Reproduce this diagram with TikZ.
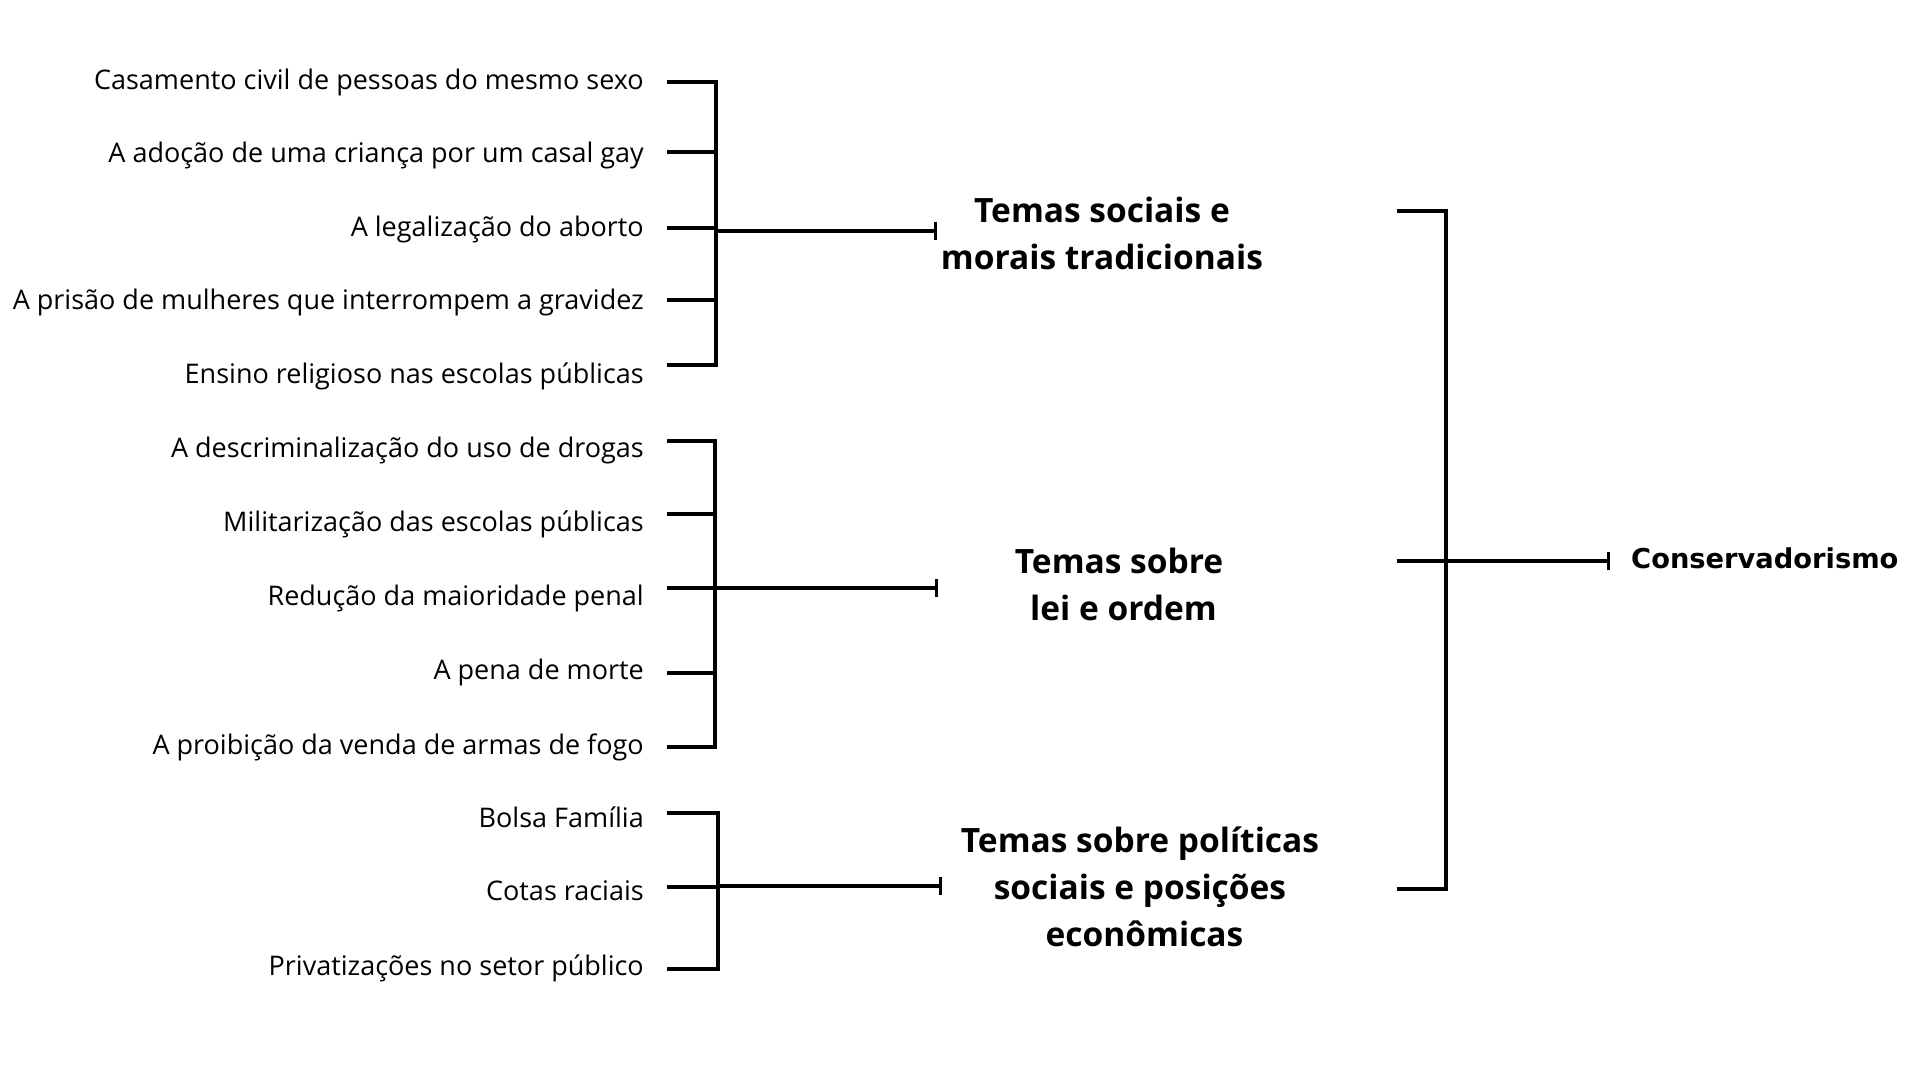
\documentclass[tikz,border=0pt]{standalone}
\usepackage{fontspec}
\setmainfont{Open Sans}
\newfontfamily\consfont{DejaVu Sans}
\usetikzlibrary{arrows.meta}
\tikzset{
  item/.style={anchor=mid east, inner sep=0pt, font=\fontsize{27}{32}\selectfont},
  grouplabel/.style={align=center, inner sep=0pt, font=\fontsize{33.5}{47}\selectfont\bfseries},
  brk/.style={line width=4pt, line join=miter},
  conn/.style={line width=4pt, -{Bar[width=18pt,line width=3.5pt]}},
}
\begin{document}
\begin{tikzpicture}[x=1pt,y=-1pt]
\useasboundingbox (0,0) rectangle (1920,1080);

% items group 1
\node[item] (i1) at (644,87) {Casamento civil de pessoas do mesmo sexo};
\node[item] (i2) at (644,160) {A adoção de uma criança por um casal gay};
\node[item] (i3) at (644,234) {A legalização do aborto};
\node[item] (i4) at (644,307) {A prisão de mulheres que interrompem a gravidez};
\node[item] (i5) at (644,381) {Ensino religioso nas escolas públicas};
% group 2
\node[item] (i6) at (644,455) {A descriminalização do uso de drogas};
\node[item] (i7) at (644,529) {Militarização das escolas públicas};
\node[item] (i8) at (644,603) {Redução da maioridade penal};
\node[item] (i9) at (644,677) {A pena de morte};
\node[item] (i10) at (644,752) {A proibição da venda de armas de fogo};
% group 3
\node[item] (i11) at (644,825) {Bolsa Família};
\node[item] (i12) at (644,898) {Cotas raciais};
\node[item] (i13) at (644,973) {Privatizações no setor público};

% tick coordinates
\foreach \n/\y in {1/82,2/152,3/228,4/300,5/365}{
  \coordinate (s\n) at (667,\y);
  \coordinate (v\n) at (716,\y);
}
\foreach \n/\y in {6/441,7/514,8/588,9/673,10/747}{
  \coordinate (s\n) at (667,\y);
  \coordinate (v\n) at (715,\y);
}
\foreach \n/\y in {11/813,12/887,13/969}{
  \coordinate (s\n) at (667,\y);
  \coordinate (v\n) at (718,\y);
}

% brackets
\draw[brk] (s1) -- (v1) -- (v5) -- (s5);
\foreach \n in {2,3,4}{\draw[brk] (s\n) -- (v\n);}
\draw[brk] (s6) -- (v6) -- (v10) -- (s10);
\foreach \n in {7,8,9}{\draw[brk] (s\n) -- (v\n);}
\draw[brk] (s11) -- (v11) -- (v13) -- (s13);
\draw[brk] (s12) -- (v12);

% group labels
\node[grouplabel] (g1) at (1102,233) {Temas sociais e\\morais tradicionais};
\node[grouplabel] (g2) at (1119,584) {Temas sobre\\\hspace*{9pt}lei e ordem};
\node[grouplabel] (g3) at (1140,887) {Temas sobre políticas\\sociais e posições\\\hspace*{9pt}econômicas};

% connectors from brackets to group labels
\coordinate (j1) at (716,231);
\coordinate (e1) at (937,231);
\coordinate (j2) at (715,588);
\coordinate (e2) at (938,588);
\coordinate (j3) at (719,886);
\coordinate (e3) at (942,886);
\draw[conn] (j1) -- (e1);
\draw[conn] (j2) -- (e2);
\draw[conn] (j3) -- (e3);

% right bracket
\coordinate (r1) at (1397,211);
\coordinate (q1) at (1446,211);
\coordinate (r2) at (1397,561);
\coordinate (q2) at (1446,561);
\coordinate (r3) at (1397,889);
\coordinate (q3) at (1446,889);
\coordinate (ec) at (1610,561);
\draw[brk] (r1) -- (q1) -- (q3) -- (r3);
\draw[brk] (r2) -- (q2);
\draw[conn] (q2) -- (ec);

\node[anchor=mid west, inner sep=0pt, font=\consfont\bfseries\fontsize{27.3}{32}\selectfont] (cons) at (1631,566) {Conservadorismo};
\end{tikzpicture}
\end{document}
